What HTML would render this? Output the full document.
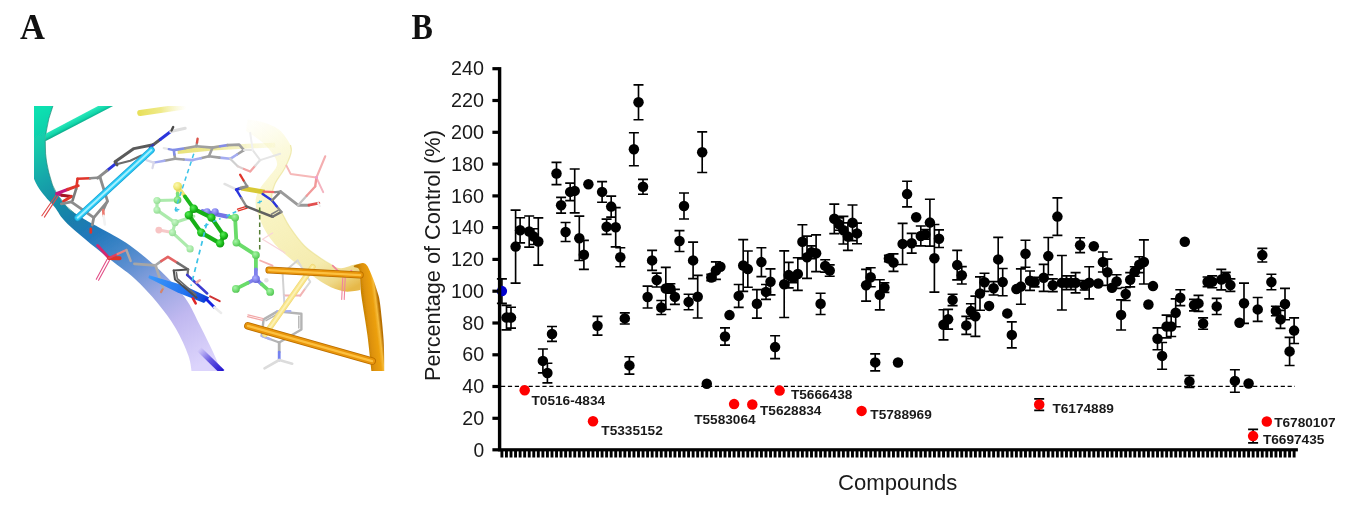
<!DOCTYPE html>
<html><head><meta charset="utf-8"><title>Figure</title>
<style>
html,body{margin:0;padding:0;background:#fff;}
svg{display:block}
</style></head><body>
<svg width="1354" height="511" viewBox="0 0 1354 511">
<rect width="1354" height="511" fill="#fff"/>
<text transform="translate(20.0,38.9) scale(0.95,1)" font-family="'Liberation Serif', 'Times New Roman', serif" font-weight="bold" font-size="36.4" fill="#111">A</text>
<text transform="translate(411.4,39.1) scale(0.875,1)" font-family="'Liberation Serif', 'Times New Roman', serif" font-weight="bold" font-size="36.6" fill="#111">B</text>
<defs>
<filter id="soft" x="-5%" y="-5%" width="110%" height="110%"><feGaussianBlur stdDeviation="0.45"/></filter>
<clipPath id="mclip"><rect x="34.3" y="106.3" width="352" height="264.2"/></clipPath>
<linearGradient id="gRib" gradientUnits="userSpaceOnUse" x1="40" y1="110" x2="200" y2="365">
<stop offset="0" stop-color="#0ce0b0"/><stop offset="0.1" stop-color="#14c8aa"/><stop offset="0.2" stop-color="#18a6aa"/><stop offset="0.3" stop-color="#168aa6"/>
<stop offset="0.38" stop-color="#1a7cae"/><stop offset="0.45" stop-color="#2478bc"/><stop offset="0.52" stop-color="#3c84c6"/><stop offset="0.6" stop-color="#6090d2"/>
<stop offset="0.72" stop-color="#9ca8e2"/><stop offset="0.83" stop-color="#c0b8f0"/><stop offset="0.95" stop-color="#d4ccf8"/><stop offset="1" stop-color="#dcd4fc"/></linearGradient>
<linearGradient id="gRibShade" gradientUnits="userSpaceOnUse" x1="34" y1="0" x2="56" y2="0">
<stop offset="0" stop-color="#066" stop-opacity="0.35"/><stop offset="1" stop-color="#066" stop-opacity="0"/></linearGradient>
<linearGradient id="gBranch" gradientUnits="userSpaceOnUse" x1="70" y1="120.3" x2="74" y2="128.2">
<stop offset="0" stop-color="#2ceabc"/><stop offset="0.55" stop-color="#10d4a8"/><stop offset="1" stop-color="#088c74"/></linearGradient>
<linearGradient id="gYcyl" gradientUnits="userSpaceOnUse" x1="140" y1="113" x2="186" y2="106">
<stop offset="0" stop-color="#e8e05c"/><stop offset="0.45" stop-color="#ece674" stop-opacity="0.85"/><stop offset="1" stop-color="#f4f0a0" stop-opacity="0"/></linearGradient>
<linearGradient id="gYrib" gradientUnits="userSpaceOnUse" x1="255" y1="120" x2="350" y2="290">
<stop offset="0" stop-color="#fbf8d0" stop-opacity="0.1"/><stop offset="0.2" stop-color="#f9f5c0" stop-opacity="0.55"/><stop offset="0.45" stop-color="#f7f1b4" stop-opacity="0.8"/>
<stop offset="0.8" stop-color="#f4eaa8" stop-opacity="0.92"/><stop offset="0.92" stop-color="#eed888"/><stop offset="1" stop-color="#e6b848"/></linearGradient>
<linearGradient id="gYrib2" gradientUnits="userSpaceOnUse" x1="270" y1="228" x2="362" y2="282">
<stop offset="0" stop-color="#f8f2b8" stop-opacity="0.8"/><stop offset="0.6" stop-color="#f5ecb0" stop-opacity="0.9"/><stop offset="0.85" stop-color="#eedc88"/><stop offset="1" stop-color="#e6b848"/></linearGradient>
<linearGradient id="gOrib" gradientUnits="userSpaceOnUse" x1="363.6" y1="321" x2="380.4" y2="319">
<stop offset="0" stop-color="#c07c04"/><stop offset="0.3" stop-color="#de9208"/><stop offset="0.7" stop-color="#eca010"/><stop offset="0.86" stop-color="#f6bc3c"/><stop offset="1" stop-color="#b87004"/></linearGradient>
<linearGradient id="gSlab" gradientUnits="userSpaceOnUse" x1="150" y1="277" x2="208" y2="300">
<stop offset="0" stop-color="#3a98fa"/><stop offset="0.6" stop-color="#2474f0"/><stop offset="1" stop-color="#0c3cd4"/></linearGradient>
<linearGradient id="gVio" gradientUnits="userSpaceOnUse" x1="199" y1="349" x2="221" y2="371">
<stop offset="0" stop-color="#5040e0" stop-opacity="0"/><stop offset="0.5" stop-color="#4030d8" stop-opacity="0.75"/><stop offset="1" stop-color="#2818d0"/></linearGradient>
<linearGradient id="gGsl" gradientUnits="userSpaceOnUse" x1="177" y1="0" x2="276" y2="0">
<stop offset="0" stop-color="#e4dc5c" stop-opacity="0.85"/><stop offset="0.38" stop-color="#e8e270" stop-opacity="0.8"/><stop offset="0.6" stop-color="#efea90" stop-opacity="0.6"/><stop offset="1" stop-color="#f4f0a8" stop-opacity="0.2"/></linearGradient>
<radialGradient id="bG" cx="0.38" cy="0.35" r="0.7"><stop offset="0" stop-color="#58ec58"/><stop offset="0.6" stop-color="#1cbc1c"/><stop offset="1" stop-color="#0c900c"/></radialGradient>
<radialGradient id="bL" cx="0.38" cy="0.35" r="0.7"><stop offset="0" stop-color="#a8f4a8"/><stop offset="0.6" stop-color="#70dc70"/><stop offset="1" stop-color="#50c050"/></radialGradient>
<radialGradient id="bN" cx="0.38" cy="0.35" r="0.7"><stop offset="0" stop-color="#b0b0ff"/><stop offset="0.6" stop-color="#8080ec"/><stop offset="1" stop-color="#6060d0"/></radialGradient>
<radialGradient id="bS" cx="0.38" cy="0.35" r="0.7"><stop offset="0" stop-color="#fcf8b0"/><stop offset="0.6" stop-color="#f0e874"/><stop offset="1" stop-color="#d8cc50"/></radialGradient>
</defs>
<g id="mol" clip-path="url(#mclip)"><g filter="url(#soft)">
<path d="M247.6 119.5 C250.0 119.9 256.8 120.3 262.0 122.0 C267.2 123.7 274.1 125.6 278.8 129.4 C283.6 133.2 288.5 141.1 290.5 145.0 C292.5 148.9 292.0 149.1 291.0 153.0 C290.0 156.9 287.3 163.3 284.6 168.5 C281.9 173.7 276.9 178.9 274.8 184.2 C272.7 189.4 271.0 195.4 272.0 200.0 C273.0 204.6 278.1 207.1 281.0 211.5 C283.9 215.9 285.6 220.8 289.5 226.6 C293.4 232.3 299.2 240.6 304.6 246.0 C310.0 251.4 317.2 255.7 321.9 258.9 C326.6 262.1 329.4 263.8 332.6 265.4 C335.8 266.9 337.8 268.3 341.3 268.2 C344.8 268.1 350.7 265.4 353.8 264.7 C356.9 264.0 359.0 263.9 360.0 263.8 L360.3 289.8 C359.6 289.9 359.1 290.4 356.3 290.7 C353.5 290.9 348.4 292.3 343.4 291.3 C338.4 290.3 332.7 288.4 326.2 284.8 C319.7 281.2 311.8 275.1 304.6 269.7 C297.4 264.3 289.2 258.2 283.1 252.5 C277.0 246.8 271.9 240.9 268.0 235.2 C264.1 229.4 261.5 223.4 259.4 218.0 C257.3 212.6 255.6 207.7 255.5 203.0 C255.4 198.3 256.9 194.2 259.0 190.0 C261.1 185.8 265.0 182.2 268.0 178.0 C271.0 173.8 276.3 169.2 277.0 165.0 C277.7 160.8 274.5 156.8 272.0 153.0 C269.5 149.2 266.3 145.7 262.0 142.0 C257.7 138.3 248.7 132.8 246.0 131.0Z" fill="url(#gYrib)"/>
<path d="M290.5 145.0 C290.6 146.3 292.0 149.1 291.0 153.0 C290.0 156.9 287.3 163.3 284.6 168.5 C281.9 173.7 276.9 178.9 274.8 184.2 C272.7 189.4 271.0 195.4 272.0 200.0 C273.0 204.6 278.1 207.1 281.0 211.5 C283.9 215.9 285.6 220.8 289.5 226.6 C293.4 232.3 299.2 240.6 304.6 246.0 C310.0 251.4 317.2 255.7 321.9 258.9 C326.6 262.1 330.8 264.3 332.6 265.4" stroke="#e6dc84" stroke-width="1.2" fill="none" opacity="0.55"/>
<g opacity="0.95">
<path d="M177.6 151.6 L212.6 148.3 L247.7 146.1 L275.2 145.1" stroke="url(#gGsl)" stroke-width="4.6" fill="none" stroke-linecap="butt" stroke-linejoin="round"/>
<path d="M163.8 148.1 L168.8 149.1" stroke="#e6e6e6" stroke-width="2.4" fill="none" stroke-linecap="round" stroke-linejoin="round"/>
<path d="M168.8 149.1 L173.8 150.1" stroke="#7c88e6" stroke-width="2.4" fill="none" stroke-linecap="round" stroke-linejoin="round"/>
<path d="M173.8 150.1 L185.1 148.2" stroke="#7c88e6" stroke-width="2.6" fill="none" stroke-linecap="round" stroke-linejoin="round"/>
<path d="M185.1 148.2 L196.3 146.3" stroke="#9a9a9a" stroke-width="2.6" fill="none" stroke-linecap="round" stroke-linejoin="round"/>
<path d="M196.3 146.3 L197.0 142.6" stroke="#9a9a9a" stroke-width="2.4" fill="none" stroke-linecap="round" stroke-linejoin="round"/>
<path d="M197.0 142.6 L197.6 138.8" stroke="#d84a40" stroke-width="2.4" fill="none" stroke-linecap="round" stroke-linejoin="round"/>
<path d="M196.3 146.3 L212.6 147.6 L208.9 156.3" stroke="#9a9a9a" stroke-width="2.6" fill="none" stroke-linecap="round" stroke-linejoin="round"/>
<path d="M208.9 156.3 L200.7 158.2" stroke="#9a9a9a" stroke-width="2.6" fill="none" stroke-linecap="round" stroke-linejoin="round"/>
<path d="M200.7 158.2 L192.6 160.1" stroke="#a0a8f0" stroke-width="2.6" fill="none" stroke-linecap="round" stroke-linejoin="round"/>
<path d="M192.6 160.1 L183.8 159.5" stroke="#a0a8f0" stroke-width="2.6" fill="none" stroke-linecap="round" stroke-linejoin="round"/>
<path d="M183.8 159.5 L175.1 158.8" stroke="#9a9a9a" stroke-width="2.6" fill="none" stroke-linecap="round" stroke-linejoin="round"/>
<path d="M175.1 158.8 L174.4 154.5" stroke="#9a9a9a" stroke-width="2.6" fill="none" stroke-linecap="round" stroke-linejoin="round"/>
<path d="M174.4 154.5 L173.8 150.1" stroke="#7c88e6" stroke-width="2.6" fill="none" stroke-linecap="round" stroke-linejoin="round"/>
<path d="M175.1 158.8 L164.4 160.7" stroke="#9a9a9a" stroke-width="2.4" fill="none" stroke-linecap="round" stroke-linejoin="round"/>
<path d="M164.4 160.7 L153.8 162.6" stroke="#a0a8f0" stroke-width="2.4" fill="none" stroke-linecap="round" stroke-linejoin="round"/>
<path d="M146.3 160.1 L153.8 162.6 L152.5 168.1" stroke="#d6d6e8" stroke-width="2.2" fill="none" stroke-linecap="round" stroke-linejoin="round"/>
<path d="M212.6 147.6 L220.1 146.3" stroke="#9a9a9a" stroke-width="2.6" fill="none" stroke-linecap="round" stroke-linejoin="round"/>
<path d="M220.1 146.3 L227.6 145.1" stroke="#8088e6" stroke-width="2.6" fill="none" stroke-linecap="round" stroke-linejoin="round"/>
<path d="M227.6 145.1 L239.2 144.6 L243.9 150.1" stroke="#9a9a9a" stroke-width="2.6" fill="none" stroke-linecap="round" stroke-linejoin="round"/>
<path d="M243.9 150.1 L237.0 154.5" stroke="#9a9a9a" stroke-width="2.6" fill="none" stroke-linecap="round" stroke-linejoin="round"/>
<path d="M237.0 154.5 L230.2 158.8" stroke="#a0a8f0" stroke-width="2.6" fill="none" stroke-linecap="round" stroke-linejoin="round"/>
<path d="M230.2 158.8 L219.5 157.6" stroke="#a0a8f0" stroke-width="2.6" fill="none" stroke-linecap="round" stroke-linejoin="round"/>
<path d="M219.5 157.6 L208.9 156.3" stroke="#9a9a9a" stroke-width="2.6" fill="none" stroke-linecap="round" stroke-linejoin="round"/>
</g>
<path d="M230.2 158.8 L237.7 166.3" stroke="#cfcfcf" stroke-width="2.2" fill="none" stroke-linecap="round" stroke-linejoin="round"/>
<path d="M237.7 166.3 L243.9 168.9" stroke="#dcd0d0" stroke-width="2.2" fill="none" stroke-linecap="round" stroke-linejoin="round"/>
<path d="M243.9 168.9 L250.2 171.4" stroke="#f2a4a4" stroke-width="2.2" fill="none" stroke-linecap="round" stroke-linejoin="round"/>
<path d="M250.2 171.4 L255.2 165.7" stroke="#f2a4a4" stroke-width="2.2" fill="none" stroke-linecap="round" stroke-linejoin="round"/>
<path d="M255.2 165.7 L260.2 160.1" stroke="#dedede" stroke-width="2.2" fill="none" stroke-linecap="round" stroke-linejoin="round"/>
<path d="M260.2 160.1 L280.2 153.8" stroke="#e6e6e6" stroke-width="2.0" fill="none" stroke-linecap="round" stroke-linejoin="round"/>
<path d="M260.2 160.1 L252.7 150.1 L243.9 150.1" stroke="#e4e4e4" stroke-width="2.0" fill="none" stroke-linecap="round" stroke-linejoin="round"/>
<path d="M252.7 150.1 L250.2 133.0" stroke="#f0f0f0" stroke-width="2.0" fill="none" stroke-linecap="round" stroke-linejoin="round"/>
<path d="M316.4 177.6 L325.2 156.3" stroke="#f4aeb0" stroke-width="2.2" fill="none" stroke-linecap="round" stroke-linejoin="round"/>
<path d="M316.4 177.6 L290.6 173.9 L286.4 165.6" stroke="#f6b8b8" stroke-width="2.0" fill="none" stroke-linecap="round" stroke-linejoin="round"/>
<path d="M316.4 177.6 L323.2 192.1" stroke="#f4b4c0" stroke-width="2.0" fill="none" stroke-linecap="round" stroke-linejoin="round"/>
<path d="M316.4 177.6 L315.2 186.4" stroke="#f29898" stroke-width="2.4" fill="none" stroke-linecap="round" stroke-linejoin="round"/>
<circle cx="316.4" cy="177.6" r="1.6" fill="#eea0cc"/>
<path d="M272.6 233.0 L262.6 239.3 L285.1 253.0" stroke="#f8d4da" stroke-width="1.3" fill="none" stroke-linecap="round" stroke-linejoin="round"/>
<path d="M260.1 260.5 L272.6 265.6" stroke="#f4b0b0" stroke-width="1.8" fill="none" stroke-linecap="round" stroke-linejoin="round"/>
<path d="M297.6 260.5 L282.6 273.1 L283.9 295.6" stroke="#d2d2d2" stroke-width="2.0" fill="none" stroke-linecap="round" stroke-linejoin="round"/>
<path d="M283.9 295.6 L300.2 295.6" stroke="#f2b4b4" stroke-width="2.0" fill="none" stroke-linecap="round" stroke-linejoin="round"/>
<path d="M300.2 295.6 L305.2 288.7" stroke="#f2b4b4" stroke-width="2.0" fill="none" stroke-linecap="round" stroke-linejoin="round"/>
<path d="M305.2 288.7 L310.2 281.8" stroke="#d8d8d8" stroke-width="2.0" fill="none" stroke-linecap="round" stroke-linejoin="round"/>
<path d="M310.2 281.8 L297.6 260.5" stroke="#dadada" stroke-width="2.0" fill="none" stroke-linecap="round" stroke-linejoin="round"/>
<path d="M283.9 295.6 L284.6 307.6" stroke="#d0d0dc" stroke-width="2.0" fill="none" stroke-linecap="round" stroke-linejoin="round"/>
<path d="M263.6 319.4 L277.4 311.4 L301.4 313.8 L301.4 329.5 L279.2 342.5 L261.7 336.0 L263.6 319.4" stroke="#b4b4b4" stroke-width="2.4" fill="none" stroke-linecap="round" stroke-linejoin="round"/>
<path d="M298.8 316.2 L298.8 328.1" stroke="#b4b4b4" stroke-width="1.4" fill="none" stroke-linecap="round" stroke-linejoin="round"/>
<path d="M266.0 320.7 L277.4 314.2" stroke="#b4b4b4" stroke-width="1.4" fill="none" stroke-linecap="round" stroke-linejoin="round"/>
<path d="M277.4 311.4 L290.3 311.1" stroke="#a8b0f0" stroke-width="2.4" fill="none" stroke-linecap="round" stroke-linejoin="round"/>
<path d="M261.7 336.0 L270.0 339.1" stroke="#a8b0f0" stroke-width="2.4" fill="none" stroke-linecap="round" stroke-linejoin="round"/>
<path d="M247.9 314.8 L263.0 318.5" stroke="#f2a6a6" stroke-width="1.2" fill="none" stroke-linecap="round" stroke-linejoin="round"/>
<path d="M247.5 316.6 L262.6 320.3" stroke="#f2a6a6" stroke-width="1.2" fill="none" stroke-linecap="round" stroke-linejoin="round"/>
<path d="M279.2 342.5 L279.2 352.1" stroke="#b2b2b2" stroke-width="2.8" fill="none" stroke-linecap="round" stroke-linejoin="round"/>
<path d="M279.2 352.1 L279.2 360.0" stroke="#7482f0" stroke-width="2.8" fill="none" stroke-linecap="round" stroke-linejoin="round"/>
<path d="M279.2 360.0 L264.5 368.3" stroke="#dcdcdc" stroke-width="2.6" fill="none" stroke-linecap="round" stroke-linejoin="round"/>
<path d="M279.2 360.0 L292.2 363.7" stroke="#dcdcdc" stroke-width="2.6" fill="none" stroke-linecap="round" stroke-linejoin="round"/>
<path d="M341.7 299.4 L342.7 278.1" stroke="#f0849c" stroke-width="1.1" fill="none" stroke-linecap="round" stroke-linejoin="round"/>
<path d="M344.2 299.4 L345.2 278.1" stroke="#f0849c" stroke-width="1.1" fill="none" stroke-linecap="round" stroke-linejoin="round"/>
<path d="M332.7 265.6 L344.0 276.8 L351.5 270.6" stroke="#f0849c" stroke-width="1.6" fill="none" stroke-linecap="round" stroke-linejoin="round"/>
<path d="M30.0 100.0 C30.0 108.3 29.7 138.0 30.0 150.0 C30.3 162.0 30.8 166.0 32.0 172.0 C33.2 178.0 35.3 181.9 37.5 186.0 C39.7 190.1 42.1 192.7 45.0 196.3 C47.9 199.9 51.2 203.0 55.0 207.6 C58.8 212.2 59.2 216.0 67.6 224.0 C75.9 232.0 93.9 246.4 105.1 255.5 C116.2 264.6 125.8 270.6 134.5 278.5 C143.2 286.4 150.7 294.8 157.5 303.0 C164.3 311.2 170.3 319.2 175.5 328.0 C180.7 336.8 185.8 348.2 188.5 356.0 C191.2 363.8 191.4 371.8 192.0 375.0 L222.5 375.0 C221.2 371.7 218.3 363.6 214.6 355.4 C210.8 347.2 204.9 335.2 200.0 325.6 C195.1 316.0 191.8 307.2 185.2 298.0 C178.6 288.8 169.4 279.4 160.2 270.6 C151.0 261.9 140.0 252.6 130.0 245.5 C120.0 238.4 106.7 231.8 100.0 228.0 C93.3 224.2 94.4 225.2 90.0 222.6 C85.6 220.0 77.8 215.3 73.8 212.6 C69.8 209.9 69.1 209.4 66.3 206.3 C63.5 203.2 59.2 197.4 56.9 193.8 C54.6 190.2 53.9 188.6 52.5 185.0 C51.1 181.4 49.8 176.3 48.8 172.5 C47.8 168.7 47.1 165.1 46.6 162.0 C46.1 158.9 45.8 157.2 45.6 153.8 C45.4 150.4 45.2 145.1 45.3 141.3 C45.4 137.6 45.7 135.1 46.3 131.3 C46.9 127.6 47.7 123.0 48.8 118.8 C49.9 114.6 51.9 109.1 52.9 106.0 C53.9 102.9 54.6 101.0 55.0 100.0Z" fill="url(#gRib)"/>
<path d="M55.0 100.0 L52.9 106.0 L48.8 118.8 L46.3 131.3 L45.3 141.3 L45.6 153.8 L46.6 162.0 L48.8 172.5 L52.5 185.0 L56.9 193.8 L66.3 206.3 L73.8 212.6" stroke="#0a7868" stroke-width="1.0" fill="none" stroke-linecap="round" stroke-linejoin="round" opacity="0.6"/>
<path d="M46.0 133.6 L99.5 105.3 L114.5 105.3 L45.3 141.2Z" fill="url(#gBranch)"/>
<path d="M198.9 348.9 L222.4 372.0" stroke="url(#gVio)" stroke-width="5.6" fill="none" stroke-linecap="butt" stroke-linejoin="round"/>
<path d="M353.8 265.7 C354.8 265.4 357.8 264.2 359.4 263.8 C361.1 263.4 362.5 262.7 363.8 263.2 C365.2 263.6 366.1 263.9 367.6 266.3 C369.0 268.7 370.9 273.2 372.6 277.6 C374.3 281.9 376.3 288.2 377.6 292.6 C378.9 297.0 379.1 296.1 380.1 304.0 C381.1 311.9 382.9 328.7 383.6 340.0 C384.3 351.3 384.2 366.7 384.3 372.0 L371.5 372.0 C370.8 365.8 368.9 346.3 367.4 335.0 C365.9 323.7 363.7 311.5 362.6 304.0 C361.5 296.5 361.1 294.5 360.7 290.1 C360.3 285.7 360.2 280.6 360.1 277.6 C359.9 274.5 360.1 273.5 359.8 271.9 C359.5 270.4 359.2 269.0 358.2 268.2 C357.2 267.3 354.5 267.1 353.8 266.9Z" fill="url(#gOrib)"/>
<path d="M312.7 266.8 L265.1 334.4" stroke="#f0d878" stroke-width="5.8" fill="none" stroke-linecap="round" stroke-linejoin="round"/>
<path d="M312.7 266.8 L265.1 334.4" stroke="#f9e68c" stroke-width="4.524" fill="none" stroke-linecap="round" stroke-linejoin="round"/>
<path d="M312.7 266.8 L265.1 334.4" stroke="#fdf2b4" stroke-width="1.74" fill="none" stroke-linecap="round" stroke-linejoin="round"/>
<path d="M268.9 270.1 L360.2 275.1" stroke="#b86c00" stroke-width="7.0" fill="none" stroke-linecap="round" stroke-linejoin="round"/>
<path d="M268.9 270.1 L360.2 275.1" stroke="#e89408" stroke-width="5.46" fill="none" stroke-linecap="round" stroke-linejoin="round"/>
<path d="M268.9 270.1 L360.2 275.1" stroke="#fcc040" stroke-width="2.1" fill="none" stroke-linecap="round" stroke-linejoin="round"/>
<path d="M247.9 325.8 L372.1 361.2" stroke="#b86c00" stroke-width="7.6" fill="none" stroke-linecap="round" stroke-linejoin="round"/>
<path d="M247.9 325.8 L372.1 361.2" stroke="#e89408" stroke-width="5.928" fill="none" stroke-linecap="round" stroke-linejoin="round"/>
<path d="M247.9 325.8 L372.1 361.2" stroke="#fcc040" stroke-width="2.28" fill="none" stroke-linecap="round" stroke-linejoin="round"/>
<path d="M55.7 195.7 L41.9 215.7" stroke="#e04848" stroke-width="1.1" fill="none" stroke-linecap="round" stroke-linejoin="round"/>
<path d="M57.8 196.4 L44.4 217.1" stroke="#e04848" stroke-width="1.1" fill="none" stroke-linecap="round" stroke-linejoin="round"/>
<path d="M56.9 193.6 L67.6 189.5" stroke="#c4187e" stroke-width="3.2" fill="none" stroke-linecap="round" stroke-linejoin="round"/>
<path d="M67.6 189.5 L78.2 185.7" stroke="#e0342a" stroke-width="3.0" fill="none" stroke-linecap="round" stroke-linejoin="round"/>
<path d="M56.9 193.6 L61.9 195.2" stroke="#c4187e" stroke-width="3.0" fill="none" stroke-linecap="round" stroke-linejoin="round"/>
<path d="M61.9 195.2 L71.3 196.4" stroke="#a41424" stroke-width="3.0" fill="none" stroke-linecap="round" stroke-linejoin="round"/>
<path d="M71.3 196.4 L63.6 201.3" stroke="#e0342a" stroke-width="3.0" fill="none" stroke-linecap="round" stroke-linejoin="round"/>
<path d="M77.6 178.8 L90.1 178.3" stroke="#e0342a" stroke-width="2.6" fill="none" stroke-linecap="round" stroke-linejoin="round"/>
<path d="M90.1 178.3 L100.1 177.5" stroke="#8c8c8c" stroke-width="2.6" fill="none" stroke-linecap="round" stroke-linejoin="round"/>
<path d="M77.6 178.8 L76.1 189.0" stroke="#e0342a" stroke-width="2.6" fill="none" stroke-linecap="round" stroke-linejoin="round"/>
<path d="M76.1 189.0 L72.6 200.3" stroke="#7c7c7c" stroke-width="2.6" fill="none" stroke-linecap="round" stroke-linejoin="round"/>
<path d="M61.3 203.8 L71.3 201.9" stroke="#8a8a8a" stroke-width="2.8" fill="none" stroke-linecap="round" stroke-linejoin="round"/>
<path d="M100.1 177.5 L107.6 201.3 L93.8 217.6 L71.3 201.9" stroke="#8c8c8c" stroke-width="2.8" fill="none" stroke-linecap="round" stroke-linejoin="round"/>
<path d="M93.8 217.6 L92.3 225.1" stroke="#8c8c8c" stroke-width="2.8" fill="none" stroke-linecap="round" stroke-linejoin="round"/>
<path d="M106.6 202.6 L103.2 210.1" stroke="#8c8c8c" stroke-width="2.6" fill="none" stroke-linecap="round" stroke-linejoin="round"/>
<path d="M103.2 210.1 L103.6 215.7" stroke="#ec7a70" stroke-width="2.6" fill="none" stroke-linecap="round" stroke-linejoin="round"/>
<path d="M103.6 215.7 L104.9 224.5" stroke="#f2f2f2" stroke-width="2.6" fill="none" stroke-linecap="round" stroke-linejoin="round"/>
<path d="M116.4 163.1 L107.0 170.6" stroke="#2a34dc" stroke-width="3.0" fill="none" stroke-linecap="round" stroke-linejoin="round"/>
<path d="M107.0 170.6 L97.6 178.1" stroke="#8c8c8c" stroke-width="3.0" fill="none" stroke-linecap="round" stroke-linejoin="round"/>
<path d="M116.6 164.3 L130.2 160.8 L141.4 155.6" stroke="#6c6c6c" stroke-width="2.2" fill="none" stroke-linecap="round" stroke-linejoin="round"/>
<path d="M115.1 161.8 L133.9 148.6 L153.2 144.8" stroke="#5a5a5a" stroke-width="3.0" fill="none" stroke-linecap="round" stroke-linejoin="round"/>
<path d="M115.1 161.8 L117.1 165.1" stroke="#5a5a5a" stroke-width="2.6" fill="none" stroke-linecap="round" stroke-linejoin="round"/>
<path d="M153.2 144.8 L160.2 139.5" stroke="#5a5a5a" stroke-width="3.0" fill="none" stroke-linecap="round" stroke-linejoin="round"/>
<path d="M160.2 139.5 L170.7 131.5" stroke="#2a34dc" stroke-width="3.0" fill="none" stroke-linecap="round" stroke-linejoin="round"/>
<path d="M170.7 131.5 L185.2 128.3" stroke="#dedede" stroke-width="3.0" fill="none" stroke-linecap="round" stroke-linejoin="round"/>
<path d="M171.5 130.5 L173.2 127.0" stroke="#4a4a4a" stroke-width="2.4" fill="none" stroke-linecap="round" stroke-linejoin="round"/>
<path d="M149.7 148.1 L153.2 144.8" stroke="#3838b0" stroke-width="2.2" fill="none" stroke-linecap="round" stroke-linejoin="round"/>
<path d="M77.6 217.7 L151.4 150.1" stroke="#18a0d4" stroke-width="6.6" fill="none" stroke-linecap="round" stroke-linejoin="round"/>
<path d="M77.6 217.7 L151.4 150.1" stroke="#2cccf6" stroke-width="5.148" fill="none" stroke-linecap="round" stroke-linejoin="round"/>
<path d="M77.6 217.7 L151.4 150.1" stroke="#a4f0ff" stroke-width="1.9799999999999998" fill="none" stroke-linecap="round" stroke-linejoin="round"/>
<path d="M140.2 113 L186 106.4" stroke="url(#gYcyl)" stroke-width="6" stroke-linecap="round" fill="none"/>
<path d="M97.6 245.5 L108.9 258.0" stroke="#d42870" stroke-width="2.89" fill="none" stroke-linecap="round" stroke-linejoin="round"/>
<path d="M108.9 258.0 L119.6 258.3" stroke="#e0342a" stroke-width="4.0" fill="none" stroke-linecap="round" stroke-linejoin="round"/>
<path d="M108.9 258.0 L117.6 254.0" stroke="#e04060" stroke-width="2.21" fill="none" stroke-linecap="round" stroke-linejoin="round"/>
<path d="M117.6 254.0 L126.4 250.0" stroke="#e88080" stroke-width="2.21" fill="none" stroke-linecap="round" stroke-linejoin="round"/>
<path d="M126.4 250.0 L130.7 261.0" stroke="#b0a8a8" stroke-width="2.38" fill="none" stroke-linecap="round" stroke-linejoin="round"/>
<path d="M107.1 259.3 L96.3 279.3" stroke="#e25088" stroke-width="1.1" fill="none" stroke-linecap="round" stroke-linejoin="round"/>
<path d="M109.4 260.5 L98.6 280.3" stroke="#e25088" stroke-width="1.1" fill="none" stroke-linecap="round" stroke-linejoin="round"/>
<path d="M90.8 228.8 L90.8 232.5" stroke="#e0342a" stroke-width="2.72" fill="none" stroke-linecap="round" stroke-linejoin="round"/>
<path d="M134.4 263.8 L155.5 265.3" stroke="#a6a6a6" stroke-width="2.72" fill="none" stroke-linecap="round" stroke-linejoin="round"/>
<path d="M155.5 265.3 L161.2 261.1" stroke="#a6a6a6" stroke-width="2.55" fill="none" stroke-linecap="round" stroke-linejoin="round"/>
<path d="M161.2 261.1 L167.9 256.9 L177.5 262.8" stroke="#e46464" stroke-width="2.55" fill="none" stroke-linecap="round" stroke-linejoin="round"/>
<path d="M177.5 262.8 L188.1 269.5" stroke="#707070" stroke-width="2.55" fill="none" stroke-linecap="round" stroke-linejoin="round"/>
<path d="M155.5 265.3 L163.1 288.1" stroke="#acacac" stroke-width="2.72" fill="none" stroke-linecap="round" stroke-linejoin="round"/>
<path d="M162.6 289.3 L161.0 292.1" stroke="#d4846c" stroke-width="2.21" fill="none" stroke-linecap="round" stroke-linejoin="round"/>
<path d="M149.1 275.3 L148.4 278.0 L177.5 292.5 L204.0 302.9 L209.4 297.5 L183.3 285.2Z" fill="url(#gSlab)"/>
<path d="M173.7 270.5 L188.1 269.5" stroke="#505050" stroke-width="2.0" fill="none" stroke-linecap="round" stroke-linejoin="round"/>
<path d="M173.7 270.5 L175.0 279.5 L196.7 297.7" stroke="#505050" stroke-width="2.0" fill="none" stroke-linecap="round" stroke-linejoin="round"/>
<path d="M176.4 272.6 L177.3 278.7 L195.9 294.8" stroke="#6a6a6a" stroke-width="1.6" fill="none" stroke-linecap="round" stroke-linejoin="round"/>
<path d="M188.1 269.5 L187.5 275.3" stroke="#707070" stroke-width="2.21" fill="none" stroke-linecap="round" stroke-linejoin="round"/>
<path d="M187.1 274.9 L207.2 293.5" stroke="#3c3cd0" stroke-width="2.55" fill="none" stroke-linecap="round" stroke-linejoin="round"/>
<path d="M206.3 299.2 L214.3 307.3" stroke="#1424e0" stroke-width="2.89" fill="none" stroke-linecap="round" stroke-linejoin="round"/>
<path d="M214.3 307.3 L221.1 313.0" stroke="#ececec" stroke-width="2.55" fill="none" stroke-linecap="round" stroke-linejoin="round"/>
<path d="M210.1 296.4 L219.7 301.2" stroke="#d03434" stroke-width="2.0" fill="none" stroke-linecap="round" stroke-linejoin="round"/>
<path d="M192.9 298.3 L195.7 303.3" stroke="#e02828" stroke-width="2.55" fill="none" stroke-linecap="round" stroke-linejoin="round"/>
<path d="M196.7 282.4 L199.8 280.3" stroke="#f2a6a6" stroke-width="2.55" fill="none" stroke-linecap="round" stroke-linejoin="round"/>
<path d="M224.5 183.9 L235.1 188.9" stroke="#e2e2e2" stroke-width="2.4" fill="none" stroke-linecap="round" stroke-linejoin="round"/>
<path d="M241.3 188.1 L264.6 192.1" stroke="#d6c62a" stroke-width="5.0" fill="none" stroke-linecap="butt" stroke-linejoin="round" opacity="0.95"/>
<path d="M236.3 189.6 L240.6 188.3" stroke="#2a34dc" stroke-width="3.0" fill="none" stroke-linecap="round" stroke-linejoin="round"/>
<path d="M240.6 188.3 L247.1 186.4" stroke="#8c8c8c" stroke-width="3.0" fill="none" stroke-linecap="round" stroke-linejoin="round"/>
<path d="M247.1 186.4 L243.6 180.5" stroke="#8c8c8c" stroke-width="2.24" fill="none" stroke-linecap="round" stroke-linejoin="round"/>
<path d="M243.6 180.5 L240.1 174.6" stroke="#e0342a" stroke-width="2.24" fill="none" stroke-linecap="round" stroke-linejoin="round"/>
<path d="M236.3 189.6 L241.3 198.0" stroke="#2a34dc" stroke-width="2.4" fill="none" stroke-linecap="round" stroke-linejoin="round"/>
<path d="M241.3 198.0 L246.3 206.4" stroke="#8c8c8c" stroke-width="2.4" fill="none" stroke-linecap="round" stroke-linejoin="round"/>
<path d="M246.3 206.4 L237.6 209.2" stroke="#e0342a" stroke-width="1.4" fill="none" stroke-linecap="round" stroke-linejoin="round"/>
<path d="M247.1 208.2 L238.3 210.9" stroke="#e0342a" stroke-width="1.4" fill="none" stroke-linecap="round" stroke-linejoin="round"/>
<path d="M246.3 206.4 L272.6 216.7" stroke="#606060" stroke-width="2.56" fill="none" stroke-linecap="round" stroke-linejoin="round"/>
<path d="M272.6 216.7 L281.4 211.9" stroke="#707070" stroke-width="2.4" fill="none" stroke-linecap="round" stroke-linejoin="round"/>
<path d="M271.4 214.2 L278.1 210.4" stroke="#808080" stroke-width="1.6" fill="none" stroke-linecap="round" stroke-linejoin="round"/>
<path d="M281.4 211.9 L276.7 206.2" stroke="#8c8c8c" stroke-width="2.4" fill="none" stroke-linecap="round" stroke-linejoin="round"/>
<path d="M276.7 206.2 L272.1 200.4" stroke="#2a34dc" stroke-width="2.4" fill="none" stroke-linecap="round" stroke-linejoin="round"/>
<path d="M262.6 194.1 L272.6 200.7" stroke="#2a34dc" stroke-width="2.4" fill="none" stroke-linecap="round" stroke-linejoin="round"/>
<path d="M263.8 191.6 L275.1 192.1" stroke="#f06868" stroke-width="2.4" fill="none" stroke-linecap="round" stroke-linejoin="round"/>
<path d="M275.1 192.1 L280.6 191.6" stroke="#8c8c8c" stroke-width="2.4" fill="none" stroke-linecap="round" stroke-linejoin="round"/>
<path d="M272.1 200.4 L280.6 191.6" stroke="#808080" stroke-width="2.4" fill="none" stroke-linecap="round" stroke-linejoin="round"/>
<path d="M280.6 191.6 L298.1 205.2 L308.9 205.2" stroke="#9a9a9a" stroke-width="2.88" fill="none" stroke-linecap="round" stroke-linejoin="round"/>
<path d="M308.9 205.2 L318.9 203.2" stroke="#e25050" stroke-width="2.72" fill="none" stroke-linecap="round" stroke-linejoin="round"/>
<path d="M318.2 203.2 L319.9 206.2" stroke="#f2f2f2" stroke-width="2.08" fill="none" stroke-linecap="round" stroke-linejoin="round"/>
<path d="M298.1 205.2 L306.7 195.8" stroke="#c4c4c4" stroke-width="2.24" fill="none" stroke-linecap="round" stroke-linejoin="round"/>
<path d="M306.7 195.8 L315.2 186.4" stroke="#f29a9a" stroke-width="2.24" fill="none" stroke-linecap="round" stroke-linejoin="round"/>
<g opacity="0.62">
<path d="M157.0 200.5 L177.6 200.0" stroke="#7ade7a" stroke-width="3.2" fill="none" stroke-linecap="round" stroke-linejoin="round"/>
<path d="M157.0 200.5 L157.0 210.1" stroke="#7ade7a" stroke-width="3.2" fill="none" stroke-linecap="round" stroke-linejoin="round"/>
<path d="M157.0 210.1 L175.1 222.6" stroke="#7ade7a" stroke-width="3.2" fill="none" stroke-linecap="round" stroke-linejoin="round"/>
<path d="M175.1 222.6 L193.8 216.3" stroke="#7ade7a" stroke-width="3.2" fill="none" stroke-linecap="round" stroke-linejoin="round"/>
<path d="M175.1 222.6 L172.5 232.6" stroke="#7ade7a" stroke-width="3.2" fill="none" stroke-linecap="round" stroke-linejoin="round"/>
<path d="M172.5 232.6 L190.1 248.9" stroke="#7ade7a" stroke-width="3.2" fill="none" stroke-linecap="round" stroke-linejoin="round"/>
<path d="M172.5 232.6 L158.8 230.1" stroke="#f0a8a8" stroke-width="3.0" fill="none" stroke-linecap="round" stroke-linejoin="round"/>
<circle cx="157.0" cy="200.5" r="3.6" fill="url(#bL)"/>
<circle cx="157.0" cy="210.1" r="3.6" fill="url(#bL)"/>
<circle cx="175.1" cy="222.6" r="3.6" fill="url(#bL)"/>
<circle cx="172.5" cy="232.6" r="3.6" fill="url(#bL)"/>
<circle cx="190.1" cy="248.9" r="3.6" fill="url(#bL)"/>
<circle cx="158.8" cy="230.1" r="3.4" fill="#f4a0a0"/>
</g>
<path d="M177.6 186.3 L177.6 193.2" stroke="#efe674" stroke-width="3.4" fill="none" stroke-linecap="round" stroke-linejoin="round"/>
<path d="M177.6 193.2 L177.6 200.0" stroke="#7ce07c" stroke-width="3.4" fill="none" stroke-linecap="round" stroke-linejoin="round"/>
<circle cx="177.6" cy="200.0" r="3.8" fill="url(#bL)"/>
<path d="M177.6 186.3 L184.9 196.4" stroke="#efe674" stroke-width="3.8" fill="none" stroke-linecap="round" stroke-linejoin="round"/>
<path d="M184.9 196.4 L193.8 208.8" stroke="#1cb81c" stroke-width="3.8" fill="none" stroke-linecap="round" stroke-linejoin="round"/>
<path d="M226.4 216.3 L235.1 217.6 L236.4 242.6 L255.9 255.1" stroke="#6adc6a" stroke-width="3.8" fill="none" stroke-linecap="round" stroke-linejoin="round"/>
<path d="M255.9 255.1 L255.9 269.4" stroke="#6adc6a" stroke-width="3.8" fill="none" stroke-linecap="round" stroke-linejoin="round"/>
<path d="M255.9 269.4 L255.9 278.9" stroke="#8080ec" stroke-width="3.8" fill="none" stroke-linecap="round" stroke-linejoin="round"/>
<path d="M255.9 278.9 L247.9 282.9" stroke="#8080ec" stroke-width="3.6" fill="none" stroke-linecap="round" stroke-linejoin="round"/>
<path d="M247.9 282.9 L235.9 288.9" stroke="#6adc6a" stroke-width="3.6" fill="none" stroke-linecap="round" stroke-linejoin="round"/>
<path d="M255.9 278.9 L261.6 284.1" stroke="#8080ec" stroke-width="3.6" fill="none" stroke-linecap="round" stroke-linejoin="round"/>
<path d="M261.6 284.1 L270.2 291.9" stroke="#6adc6a" stroke-width="3.6" fill="none" stroke-linecap="round" stroke-linejoin="round"/>
<circle cx="235.1" cy="217.6" r="3.9" fill="url(#bL)"/>
<circle cx="236.4" cy="242.6" r="3.9" fill="url(#bL)"/>
<circle cx="255.9" cy="255.1" r="3.9" fill="url(#bL)"/>
<circle cx="235.9" cy="288.9" r="3.9" fill="url(#bL)"/>
<circle cx="270.2" cy="291.9" r="3.9" fill="url(#bL)"/>
<circle cx="255.9" cy="278.9" r="4.0" fill="url(#bN)"/>
<circle cx="266.4" cy="280.2" r="2.2" fill="#d8d8d8" opacity="0.7"/>
<path d="M202.6 211.3 L226.4 216.3" stroke="#7474e6" stroke-width="4.4" fill="none" stroke-linecap="round" stroke-linejoin="round"/>
<circle cx="207.1" cy="211.6" r="3.4" fill="url(#bN)"/>
<circle cx="215.1" cy="211.8" r="3.6" fill="url(#bN)"/>
<path d="M193.8 208.8 L211.4 217.6" stroke="#18b018" stroke-width="4.2" fill="none" stroke-linecap="round" stroke-linejoin="round"/>
<path d="M211.4 217.6 L223.9 235.6" stroke="#18b018" stroke-width="4.2" fill="none" stroke-linecap="round" stroke-linejoin="round"/>
<path d="M223.9 235.6 L220.1 243.4" stroke="#18b018" stroke-width="4.2" fill="none" stroke-linecap="round" stroke-linejoin="round"/>
<path d="M220.1 243.4 L201.3 232.6" stroke="#18b018" stroke-width="4.2" fill="none" stroke-linecap="round" stroke-linejoin="round"/>
<path d="M201.3 232.6 L188.8 215.1" stroke="#18b018" stroke-width="4.2" fill="none" stroke-linecap="round" stroke-linejoin="round"/>
<path d="M188.8 215.1 L193.8 208.8" stroke="#18b018" stroke-width="4.2" fill="none" stroke-linecap="round" stroke-linejoin="round"/>
<circle cx="193.8" cy="208.8" r="4.2" fill="url(#bG)"/>
<circle cx="211.4" cy="217.6" r="4.2" fill="url(#bG)"/>
<circle cx="223.9" cy="235.6" r="4.2" fill="url(#bG)"/>
<circle cx="220.1" cy="243.4" r="4.2" fill="url(#bG)"/>
<circle cx="201.3" cy="232.6" r="4.2" fill="url(#bG)"/>
<circle cx="188.8" cy="215.1" r="4.2" fill="url(#bG)"/>
<circle cx="177.6" cy="186.3" r="4.4" fill="url(#bS)"/>
<line x1="193.8" y1="153.8" x2="175.1" y2="210.2" stroke="#3cc4e8" stroke-width="1.5" stroke-dasharray="4.5 3.5"/>
<line x1="206.8" y1="223.5" x2="191.0" y2="285.8" stroke="#3cc4e8" stroke-width="1.7" stroke-dasharray="5 4"/>
<line x1="213.1" y1="221.8" x2="220.6" y2="218.6" stroke="#3cc4e8" stroke-width="1.5" stroke-dasharray="3.5 3"/>
<line x1="226.4" y1="216.3" x2="238.9" y2="210.1" stroke="#3cc4e8" stroke-width="1.6" stroke-dasharray="4 3"/>
<line x1="259.7" y1="207.6" x2="259.7" y2="252.6" stroke="#547e34" stroke-width="1.5" stroke-dasharray="4.5 3"/>
<path d="M174.9 210.9L179.3 209.3M177.1 208.5v3.2" stroke="#3cc4e8" stroke-width="1.3" fill="none"/>
<path d="M204.1 225.9L208.5 224.3M206.3 223.5v3.2" stroke="#3cc4e8" stroke-width="1.3" fill="none"/>
<path d="M257.5 202.8L261.9 201.2M259.7 200.4v3.2" stroke="#3cc4e8" stroke-width="1.3" fill="none"/>
</g></g>
<g id="chart" font-family="'Liberation Sans', Arial, sans-serif">
<line x1="501" y1="386.4" x2="1295" y2="386.4" stroke="#000" stroke-width="1.4" stroke-dasharray="4.2 2.7"/>
<path d="M501.9 278.9V303.4M496.9 278.9h10M496.9 303.4h10M506.5 305.4V329.8M501.5 305.4h10M501.5 329.8h10M511.0 307.2V328.1M506.0 307.2h10M506.0 328.1h10M515.6 210.1V283.1M510.6 210.1h10M510.6 283.1h10M520.1 217.7V242.8M515.1 217.7h10M515.1 242.8h10M529.2 216.0V247.1M524.2 216.0h10M524.2 247.1h10M533.8 228.7V244.5M528.8 228.7h10M528.8 244.5h10M538.3 217.9V265.1M533.3 217.9h10M533.3 265.1h10M542.9 349.0V372.8M537.9 349.0h10M537.9 372.8h10M547.4 363.2V382.8M542.4 363.2h10M542.4 382.8h10M552.0 326.5V341.4M547.0 326.5h10M547.0 341.4h10M556.5 162.4V184.6M551.5 162.4h10M551.5 184.6h10M561.1 197.3V213.1M556.1 197.3h10M556.1 213.1h10M565.6 222.5V241.5M560.6 222.5h10M560.6 241.5h10M570.2 183.1V200.6M565.2 183.1h10M565.2 200.6h10M574.7 169.0V212.8M569.7 169.0h10M569.7 212.8h10M579.3 216.1V260.5M574.3 216.1h10M574.3 260.5h10M583.9 240.4V269.3M578.9 240.4h10M578.9 269.3h10M597.5 316.4V335.1M592.5 316.4h10M592.5 335.1h10M602.1 181.6V202.2M597.1 181.6h10M597.1 202.2h10M606.6 219.1V234.4M601.6 219.1h10M601.6 234.4h10M611.2 196.1V217.1M606.2 196.1h10M606.2 217.1h10M615.7 207.6V246.9M610.7 207.6h10M610.7 246.9h10M620.3 247.7V266.7M615.3 247.7h10M615.3 266.7h10M624.8 312.9V324.0M619.8 312.9h10M619.8 324.0h10M629.4 356.7V374.1M624.4 356.7h10M624.4 374.1h10M633.9 132.7V165.7M628.9 132.7h10M628.9 165.7h10M638.5 84.8V119.7M633.5 84.8h10M633.5 119.7h10M643.0 179.3V194.2M638.0 179.3h10M638.0 194.2h10M647.6 286.1V308.0M642.6 286.1h10M642.6 308.0h10M652.1 250.4V270.4M647.1 250.4h10M647.1 270.4h10M656.7 273.1V287.0M651.7 273.1h10M651.7 287.0h10M661.3 300.5V314.5M656.3 300.5h10M656.3 314.5h10M665.8 267.4V309.5M660.8 267.4h10M660.8 309.5h10M670.4 283.7V293.2M665.4 283.7h10M665.4 293.2h10M674.9 289.4V304.3M669.9 289.4h10M669.9 304.3h10M679.5 230.6V251.5M674.5 230.6h10M674.5 251.5h10M684.0 193.0V219.0M679.0 193.0h10M679.0 219.0h10M688.6 294.2V309.7M683.6 294.2h10M683.6 309.7h10M693.1 242.1V278.6M688.1 242.1h10M688.1 278.6h10M697.7 275.4V318.0M692.7 275.4h10M692.7 318.0h10M702.2 131.9V172.5M697.2 131.9h10M697.2 172.5h10M711.3 274.3V280.7M706.3 274.3h10M706.3 280.7h10M715.9 261.8V279.3M710.9 261.8h10M710.9 279.3h10M725.0 327.9V345.1M720.0 327.9h10M720.0 345.1h10M738.7 284.5V307.3M733.7 284.5h10M733.7 307.3h10M743.2 239.6V291.3M738.2 239.6h10M738.2 291.3h10M747.8 251.0V287.2M742.8 251.0h10M742.8 287.2h10M756.9 289.6V318.1M751.9 289.6h10M751.9 318.1h10M761.4 247.7V276.6M756.4 247.7h10M756.4 276.6h10M766.0 284.5V299.4M761.0 284.5h10M761.0 299.4h10M770.5 268.8V294.8M765.5 268.8h10M765.5 294.8h10M775.1 335.7V358.6M770.1 335.7h10M770.1 358.6h10M784.2 250.9V317.5M779.2 250.9h10M779.2 317.5h10M788.7 262.4V287.8M783.7 262.4h10M783.7 287.8h10M793.3 273.1V282.6M788.3 273.1h10M788.3 282.6h10M797.8 257.7V290.4M792.8 257.7h10M792.8 290.4h10M802.4 224.7V259.0M797.4 224.7h10M797.4 259.0h10M807.0 236.1V278.3M802.0 236.1h10M802.0 278.3h10M811.5 245.9V258.6M806.5 245.9h10M806.5 258.6h10M816.1 234.8V271.6M811.1 234.8h10M811.1 271.6h10M820.6 293.2V314.5M815.6 293.2h10M815.6 314.5h10M825.2 259.7V272.1M820.2 259.7h10M820.2 272.1h10M829.7 264.8V276.2M824.7 264.8h10M824.7 276.2h10M834.3 204.1V233.6M829.3 204.1h10M829.3 233.6h10M838.8 217.9V230.2M833.8 217.9h10M833.8 230.2h10M843.4 216.4V244.0M838.4 216.4h10M838.4 244.0h10M847.9 222.8V250.4M842.9 222.8h10M842.9 250.4h10M852.5 205.0V240.6M847.5 205.0h10M847.5 240.6h10M857.0 223.1V243.7M852.0 223.1h10M852.0 243.7h10M866.1 269.4V301.1M861.1 269.4h10M861.1 301.1h10M870.7 267.7V286.7M865.7 267.7h10M865.7 286.7h10M875.2 353.8V370.9M870.2 353.8h10M870.2 370.9h10M879.8 279.7V309.9M874.8 279.7h10M874.8 309.9h10M884.4 282.7V292.3M879.4 282.7h10M879.4 292.3h10M888.9 255.3V261.7M883.9 255.3h10M883.9 261.7h10M893.5 253.9V271.3M888.5 253.9h10M888.5 271.3h10M902.6 223.3V264.5M897.6 223.3h10M897.6 264.5h10M907.1 181.2V206.9M902.1 181.2h10M902.1 206.9h10M911.7 233.4V253.1M906.7 233.4h10M906.7 253.1h10M920.8 226.0V245.9M915.8 226.0h10M915.8 245.9h10M925.3 229.6V239.1M920.3 229.6h10M920.3 239.1h10M929.9 199.2V246.1M924.9 199.2h10M924.9 246.1h10M934.4 224.5V292.1M929.4 224.5h10M929.4 292.1h10M939.0 229.8V247.5M934.0 229.8h10M934.0 247.5h10M943.5 309.7V339.8M938.5 309.7h10M938.5 339.8h10M948.1 309.4V329.1M943.1 309.4h10M943.1 329.1h10M952.6 294.2V305.6M947.6 294.2h10M947.6 305.6h10M957.2 250.4V279.9M952.2 250.4h10M952.2 279.9h10M961.8 266.6V284.0M956.8 266.6h10M956.8 284.0h10M966.3 316.4V334.4M961.3 316.4h10M961.3 334.4h10M970.9 303.7V318.6M965.9 303.7h10M965.9 318.6h10M975.4 296.1V336.4M970.4 296.1h10M970.4 336.4h10M980.0 276.9V310.2M975.0 276.9h10M975.0 310.2h10M984.5 273.2V291.3M979.5 273.2h10M979.5 291.3h10M993.6 281.6V295.0M988.6 281.6h10M988.6 295.0h10M998.2 237.4V281.5M993.2 237.4h10M993.2 281.5h10M1002.7 268.5V295.7M997.7 268.5h10M997.7 295.7h10M1011.8 321.9V347.9M1006.8 321.9h10M1006.8 347.9h10M1020.9 268.9V304.2M1015.9 268.9h10M1015.9 304.2h10M1025.5 240.2V267.2M1020.5 240.2h10M1020.5 267.2h10M1030.0 271.0V290.4M1025.0 271.0h10M1025.0 290.4h10M1034.6 277.4V286.9M1029.6 277.4h10M1029.6 286.9h10M1039.2 398.8V410.3M1034.2 398.8h10M1034.2 410.3h10M1043.7 264.3V291.3M1038.7 264.3h10M1038.7 291.3h10M1048.3 237.5V274.7M1043.3 237.5h10M1043.3 274.7h10M1052.8 278.9V291.6M1047.8 278.9h10M1047.8 291.6h10M1057.4 197.9V235.3M1052.4 197.9h10M1052.4 235.3h10M1061.9 255.5V310.0M1056.9 255.5h10M1056.9 310.0h10M1066.5 275.9V289.6M1061.5 275.9h10M1061.5 289.6h10M1071.0 275.9V289.6M1066.0 275.9h10M1066.0 289.6h10M1075.6 272.6V292.9M1070.6 272.6h10M1070.6 292.9h10M1080.1 237.7V252.6M1075.1 237.7h10M1075.1 252.6h10M1084.7 280.5V290.0M1079.7 280.5h10M1079.7 290.0h10M1089.2 266.7V298.8M1084.2 266.7h10M1084.2 298.8h10M1102.9 252.0V272.0M1097.9 252.0h10M1097.9 272.0h10M1107.4 259.1V285.4M1102.4 259.1h10M1102.4 285.4h10M1116.6 274.7V288.3M1111.6 274.7h10M1111.6 288.3h10M1121.1 299.9V330.0M1116.1 299.9h10M1116.1 330.0h10M1125.7 287.5V300.5M1120.7 287.5h10M1120.7 300.5h10M1130.2 272.6V286.9M1125.2 272.6h10M1125.2 286.9h10M1134.8 266.7V276.2M1129.8 266.7h10M1129.8 276.2h10M1139.3 256.7V272.6M1134.3 256.7h10M1134.3 272.6h10M1143.9 239.9V284.0M1138.9 239.9h10M1138.9 284.0h10M1157.5 327.8V349.7M1152.5 327.8h10M1152.5 349.7h10M1162.1 342.5V369.2M1157.1 342.5h10M1157.1 369.2h10M1166.6 315.1V337.9M1161.6 315.1h10M1161.6 337.9h10M1171.2 316.5V336.5M1166.2 316.5h10M1166.2 336.5h10M1175.7 298.8V326.7M1170.7 298.8h10M1170.7 326.7h10M1180.3 289.7V305.6M1175.3 289.7h10M1175.3 305.6h10M1189.4 375.5V387.3M1184.4 375.5h10M1184.4 387.3h10M1194.0 299.4V310.8M1189.0 299.4h10M1189.0 310.8h10M1198.5 295.4V311.3M1193.5 295.4h10M1193.5 311.3h10M1203.1 317.8V329.2M1198.1 317.8h10M1198.1 329.2h10M1207.6 277.0V286.6M1202.6 277.0h10M1202.6 286.6h10M1212.2 275.9V287.7M1207.2 275.9h10M1207.2 287.7h10M1216.7 298.3V314.5M1211.7 298.3h10M1211.7 314.5h10M1221.3 269.3V289.9M1216.3 269.3h10M1216.3 289.9h10M1225.8 272.4V282.0M1220.8 272.4h10M1220.8 282.0h10M1230.4 278.9V291.3M1225.4 278.9h10M1225.4 291.3h10M1234.9 369.7V392.2M1229.9 369.7h10M1229.9 392.2h10M1244.0 283.1V323.3M1239.0 283.1h10M1239.0 323.3h10M1253.1 429.4V442.8M1248.1 429.4h10M1248.1 442.8h10M1257.7 297.5V321.3M1252.7 297.5h10M1252.7 321.3h10M1262.3 248.3V262.0M1257.3 248.3h10M1257.3 262.0h10M1271.4 274.2V289.7M1266.4 274.2h10M1266.4 289.7h10M1275.9 306.2V315.7M1270.9 306.2h10M1270.9 315.7h10M1280.5 310.3V328.4M1275.5 310.3h10M1275.5 328.4h10M1285.0 288.3V319.7M1280.0 288.3h10M1280.0 319.7h10M1289.6 337.3V365.5M1284.6 337.3h10M1284.6 365.5h10M1294.1 317.8V343.5M1289.1 317.8h10M1289.1 343.5h10" stroke="#000" stroke-width="1.65" fill="none"/>
<circle cx="501.9" cy="291.1" r="5.25" fill="#0000cc"/>
<circle cx="506.5" cy="317.6" r="5.25" fill="#000"/>
<circle cx="511.0" cy="317.6" r="5.25" fill="#000"/>
<circle cx="515.6" cy="246.6" r="5.25" fill="#000"/>
<circle cx="520.1" cy="230.2" r="5.25" fill="#000"/>
<circle cx="524.7" cy="390.3" r="5.25" fill="#fe0000"/>
<circle cx="529.2" cy="231.5" r="5.25" fill="#000"/>
<circle cx="533.8" cy="236.6" r="5.25" fill="#000"/>
<circle cx="538.3" cy="241.5" r="5.25" fill="#000"/>
<circle cx="542.9" cy="360.9" r="5.25" fill="#000"/>
<circle cx="547.4" cy="373.0" r="5.25" fill="#000"/>
<circle cx="552.0" cy="334.0" r="5.25" fill="#000"/>
<circle cx="556.5" cy="173.5" r="5.25" fill="#000"/>
<circle cx="561.1" cy="205.2" r="5.25" fill="#000"/>
<circle cx="565.6" cy="232.0" r="5.25" fill="#000"/>
<circle cx="570.2" cy="191.9" r="5.25" fill="#000"/>
<circle cx="574.7" cy="190.9" r="5.25" fill="#000"/>
<circle cx="579.3" cy="238.3" r="5.25" fill="#000"/>
<circle cx="583.9" cy="254.8" r="5.25" fill="#000"/>
<circle cx="588.4" cy="184.3" r="5.25" fill="#000"/>
<circle cx="593.0" cy="421.2" r="5.25" fill="#fe0000"/>
<circle cx="597.5" cy="325.7" r="5.25" fill="#000"/>
<circle cx="602.1" cy="191.9" r="5.25" fill="#000"/>
<circle cx="606.6" cy="226.8" r="5.25" fill="#000"/>
<circle cx="611.2" cy="206.6" r="5.25" fill="#000"/>
<circle cx="615.7" cy="227.2" r="5.25" fill="#000"/>
<circle cx="620.3" cy="257.2" r="5.25" fill="#000"/>
<circle cx="624.8" cy="318.4" r="5.25" fill="#000"/>
<circle cx="629.4" cy="365.4" r="5.25" fill="#000"/>
<circle cx="633.9" cy="149.2" r="5.25" fill="#000"/>
<circle cx="638.5" cy="102.3" r="5.25" fill="#000"/>
<circle cx="643.0" cy="186.8" r="5.25" fill="#000"/>
<circle cx="647.6" cy="297.0" r="5.25" fill="#000"/>
<circle cx="652.1" cy="260.4" r="5.25" fill="#000"/>
<circle cx="656.7" cy="280.0" r="5.25" fill="#000"/>
<circle cx="661.3" cy="307.5" r="5.25" fill="#000"/>
<circle cx="665.8" cy="288.5" r="5.25" fill="#000"/>
<circle cx="670.4" cy="288.5" r="5.25" fill="#000"/>
<circle cx="674.9" cy="296.9" r="5.25" fill="#000"/>
<circle cx="679.5" cy="241.0" r="5.25" fill="#000"/>
<circle cx="684.0" cy="206.0" r="5.25" fill="#000"/>
<circle cx="688.6" cy="301.9" r="5.25" fill="#000"/>
<circle cx="693.1" cy="260.4" r="5.25" fill="#000"/>
<circle cx="697.7" cy="296.7" r="5.25" fill="#000"/>
<circle cx="702.2" cy="152.2" r="5.25" fill="#000"/>
<circle cx="706.8" cy="383.8" r="5.25" fill="#000"/>
<circle cx="711.3" cy="277.5" r="5.25" fill="#000"/>
<circle cx="715.9" cy="270.5" r="5.25" fill="#000"/>
<circle cx="720.4" cy="266.7" r="5.25" fill="#000"/>
<circle cx="725.0" cy="336.5" r="5.25" fill="#000"/>
<circle cx="729.5" cy="315.1" r="5.25" fill="#000"/>
<circle cx="734.1" cy="404.1" r="5.25" fill="#fe0000"/>
<circle cx="738.7" cy="295.9" r="5.25" fill="#000"/>
<circle cx="743.2" cy="265.5" r="5.25" fill="#000"/>
<circle cx="747.8" cy="269.1" r="5.25" fill="#000"/>
<circle cx="752.3" cy="404.5" r="5.25" fill="#fe0000"/>
<circle cx="756.9" cy="303.8" r="5.25" fill="#000"/>
<circle cx="761.4" cy="262.1" r="5.25" fill="#000"/>
<circle cx="766.0" cy="291.9" r="5.25" fill="#000"/>
<circle cx="770.5" cy="281.8" r="5.25" fill="#000"/>
<circle cx="775.1" cy="347.1" r="5.25" fill="#000"/>
<circle cx="779.6" cy="390.6" r="5.25" fill="#fe0000"/>
<circle cx="784.2" cy="284.2" r="5.25" fill="#000"/>
<circle cx="788.7" cy="275.1" r="5.25" fill="#000"/>
<circle cx="793.3" cy="277.8" r="5.25" fill="#000"/>
<circle cx="797.8" cy="274.0" r="5.25" fill="#000"/>
<circle cx="802.4" cy="241.8" r="5.25" fill="#000"/>
<circle cx="807.0" cy="257.2" r="5.25" fill="#000"/>
<circle cx="811.5" cy="252.3" r="5.25" fill="#000"/>
<circle cx="816.1" cy="253.2" r="5.25" fill="#000"/>
<circle cx="820.6" cy="303.8" r="5.25" fill="#000"/>
<circle cx="825.2" cy="265.9" r="5.25" fill="#000"/>
<circle cx="829.7" cy="270.5" r="5.25" fill="#000"/>
<circle cx="834.3" cy="218.8" r="5.25" fill="#000"/>
<circle cx="838.8" cy="224.1" r="5.25" fill="#000"/>
<circle cx="843.4" cy="230.2" r="5.25" fill="#000"/>
<circle cx="847.9" cy="236.6" r="5.25" fill="#000"/>
<circle cx="852.5" cy="222.8" r="5.25" fill="#000"/>
<circle cx="857.0" cy="233.4" r="5.25" fill="#000"/>
<circle cx="861.6" cy="410.9" r="5.25" fill="#fe0000"/>
<circle cx="866.1" cy="285.3" r="5.25" fill="#000"/>
<circle cx="870.7" cy="277.2" r="5.25" fill="#000"/>
<circle cx="875.2" cy="362.4" r="5.25" fill="#000"/>
<circle cx="879.8" cy="294.8" r="5.25" fill="#000"/>
<circle cx="884.4" cy="287.5" r="5.25" fill="#000"/>
<circle cx="888.9" cy="258.5" r="5.25" fill="#000"/>
<circle cx="893.5" cy="262.6" r="5.25" fill="#000"/>
<circle cx="898.0" cy="362.5" r="5.25" fill="#000"/>
<circle cx="902.6" cy="243.9" r="5.25" fill="#000"/>
<circle cx="907.1" cy="194.1" r="5.25" fill="#000"/>
<circle cx="911.7" cy="243.3" r="5.25" fill="#000"/>
<circle cx="916.2" cy="217.2" r="5.25" fill="#000"/>
<circle cx="920.8" cy="236.0" r="5.25" fill="#000"/>
<circle cx="925.3" cy="234.4" r="5.25" fill="#000"/>
<circle cx="929.9" cy="222.6" r="5.25" fill="#000"/>
<circle cx="934.4" cy="258.3" r="5.25" fill="#000"/>
<circle cx="939.0" cy="238.7" r="5.25" fill="#000"/>
<circle cx="943.5" cy="324.8" r="5.25" fill="#000"/>
<circle cx="948.1" cy="319.2" r="5.25" fill="#000"/>
<circle cx="952.6" cy="299.9" r="5.25" fill="#000"/>
<circle cx="957.2" cy="265.1" r="5.25" fill="#000"/>
<circle cx="961.8" cy="275.3" r="5.25" fill="#000"/>
<circle cx="966.3" cy="325.4" r="5.25" fill="#000"/>
<circle cx="970.9" cy="311.1" r="5.25" fill="#000"/>
<circle cx="975.4" cy="316.2" r="5.25" fill="#000"/>
<circle cx="980.0" cy="293.5" r="5.25" fill="#000"/>
<circle cx="984.5" cy="282.3" r="5.25" fill="#000"/>
<circle cx="989.1" cy="305.9" r="5.25" fill="#000"/>
<circle cx="993.6" cy="288.3" r="5.25" fill="#000"/>
<circle cx="998.2" cy="259.4" r="5.25" fill="#000"/>
<circle cx="1002.7" cy="282.1" r="5.25" fill="#000"/>
<circle cx="1007.3" cy="313.4" r="5.25" fill="#000"/>
<circle cx="1011.8" cy="334.9" r="5.25" fill="#000"/>
<circle cx="1016.4" cy="289.1" r="5.25" fill="#000"/>
<circle cx="1020.9" cy="286.6" r="5.25" fill="#000"/>
<circle cx="1025.5" cy="253.7" r="5.25" fill="#000"/>
<circle cx="1030.0" cy="280.7" r="5.25" fill="#000"/>
<circle cx="1034.6" cy="282.1" r="5.25" fill="#000"/>
<circle cx="1039.2" cy="404.5" r="5.25" fill="#fe0000"/>
<circle cx="1043.7" cy="277.8" r="5.25" fill="#000"/>
<circle cx="1048.3" cy="256.1" r="5.25" fill="#000"/>
<circle cx="1052.8" cy="285.3" r="5.25" fill="#000"/>
<circle cx="1057.4" cy="216.6" r="5.25" fill="#000"/>
<circle cx="1061.9" cy="282.7" r="5.25" fill="#000"/>
<circle cx="1066.5" cy="282.7" r="5.25" fill="#000"/>
<circle cx="1071.0" cy="282.7" r="5.25" fill="#000"/>
<circle cx="1075.6" cy="282.7" r="5.25" fill="#000"/>
<circle cx="1080.1" cy="245.2" r="5.25" fill="#000"/>
<circle cx="1084.7" cy="285.3" r="5.25" fill="#000"/>
<circle cx="1089.2" cy="282.7" r="5.25" fill="#000"/>
<circle cx="1093.8" cy="246.3" r="5.25" fill="#000"/>
<circle cx="1098.3" cy="283.5" r="5.25" fill="#000"/>
<circle cx="1102.9" cy="262.0" r="5.25" fill="#000"/>
<circle cx="1107.4" cy="272.3" r="5.25" fill="#000"/>
<circle cx="1112.0" cy="287.8" r="5.25" fill="#000"/>
<circle cx="1116.6" cy="281.5" r="5.25" fill="#000"/>
<circle cx="1121.1" cy="314.9" r="5.25" fill="#000"/>
<circle cx="1125.7" cy="294.0" r="5.25" fill="#000"/>
<circle cx="1130.2" cy="279.7" r="5.25" fill="#000"/>
<circle cx="1134.8" cy="271.5" r="5.25" fill="#000"/>
<circle cx="1139.3" cy="264.7" r="5.25" fill="#000"/>
<circle cx="1143.9" cy="262.0" r="5.25" fill="#000"/>
<circle cx="1148.4" cy="304.5" r="5.25" fill="#000"/>
<circle cx="1153.0" cy="286.1" r="5.25" fill="#000"/>
<circle cx="1157.5" cy="338.7" r="5.25" fill="#000"/>
<circle cx="1162.1" cy="355.9" r="5.25" fill="#000"/>
<circle cx="1166.6" cy="326.5" r="5.25" fill="#000"/>
<circle cx="1171.2" cy="326.5" r="5.25" fill="#000"/>
<circle cx="1175.7" cy="312.7" r="5.25" fill="#000"/>
<circle cx="1180.3" cy="297.7" r="5.25" fill="#000"/>
<circle cx="1184.8" cy="241.8" r="5.25" fill="#000"/>
<circle cx="1189.4" cy="381.4" r="5.25" fill="#000"/>
<circle cx="1194.0" cy="305.1" r="5.25" fill="#000"/>
<circle cx="1198.5" cy="303.4" r="5.25" fill="#000"/>
<circle cx="1203.1" cy="323.5" r="5.25" fill="#000"/>
<circle cx="1207.6" cy="281.8" r="5.25" fill="#000"/>
<circle cx="1212.2" cy="281.8" r="5.25" fill="#000"/>
<circle cx="1216.7" cy="306.4" r="5.25" fill="#000"/>
<circle cx="1221.3" cy="279.6" r="5.25" fill="#000"/>
<circle cx="1225.8" cy="277.2" r="5.25" fill="#000"/>
<circle cx="1230.4" cy="285.1" r="5.25" fill="#000"/>
<circle cx="1234.9" cy="380.9" r="5.25" fill="#000"/>
<circle cx="1239.5" cy="322.7" r="5.25" fill="#000"/>
<circle cx="1244.0" cy="303.2" r="5.25" fill="#000"/>
<circle cx="1248.6" cy="383.5" r="5.25" fill="#000"/>
<circle cx="1253.1" cy="436.1" r="5.25" fill="#fe0000"/>
<circle cx="1257.7" cy="309.4" r="5.25" fill="#000"/>
<circle cx="1262.3" cy="255.1" r="5.25" fill="#000"/>
<circle cx="1266.8" cy="421.5" r="5.25" fill="#fe0000"/>
<circle cx="1271.4" cy="282.0" r="5.25" fill="#000"/>
<circle cx="1275.9" cy="311.0" r="5.25" fill="#000"/>
<circle cx="1280.5" cy="319.4" r="5.25" fill="#000"/>
<circle cx="1285.0" cy="304.0" r="5.25" fill="#000"/>
<circle cx="1289.6" cy="351.4" r="5.25" fill="#000"/>
<circle cx="1294.1" cy="330.6" r="5.25" fill="#000"/>
<rect x="497.9" y="67.1" width="3.4" height="384.3" fill="#000"/>
<rect x="492.4" y="448.2" width="805.5" height="3.2" fill="#000"/>
<rect x="492.4" y="416.7" width="6" height="3.2" fill="#000"/>
<rect x="492.4" y="384.9" width="6" height="3.2" fill="#000"/>
<rect x="492.4" y="353.2" width="6" height="3.2" fill="#000"/>
<rect x="492.4" y="321.4" width="6" height="3.2" fill="#000"/>
<rect x="492.4" y="289.6" width="6" height="3.2" fill="#000"/>
<rect x="492.4" y="257.8" width="6" height="3.2" fill="#000"/>
<rect x="492.4" y="226.0" width="6" height="3.2" fill="#000"/>
<rect x="492.4" y="194.3" width="6" height="3.2" fill="#000"/>
<rect x="492.4" y="162.5" width="6" height="3.2" fill="#000"/>
<rect x="492.4" y="130.7" width="6" height="3.2" fill="#000"/>
<rect x="492.4" y="98.9" width="6" height="3.2" fill="#000"/>
<rect x="492.4" y="67.1" width="6" height="3.2" fill="#000"/>
<path d="M501.90 451V457.4M506.45 451V457.4M511.01 451V457.4M515.56 451V457.4M520.11 451V457.4M524.66 451V457.4M529.22 451V457.4M533.77 451V457.4M538.32 451V457.4M542.88 451V457.4M547.43 451V457.4M551.98 451V457.4M556.54 451V457.4M561.09 451V457.4M565.64 451V457.4M570.19 451V457.4M574.75 451V457.4M579.30 451V457.4M583.85 451V457.4M588.41 451V457.4M592.96 451V457.4M597.51 451V457.4M602.07 451V457.4M606.62 451V457.4M611.17 451V457.4M615.73 451V457.4M620.28 451V457.4M624.83 451V457.4M629.38 451V457.4M633.94 451V457.4M638.49 451V457.4M643.04 451V457.4M647.60 451V457.4M652.15 451V457.4M656.70 451V457.4M661.25 451V457.4M665.81 451V457.4M670.36 451V457.4M674.91 451V457.4M679.47 451V457.4M684.02 451V457.4M688.57 451V457.4M693.13 451V457.4M697.68 451V457.4M702.23 451V457.4M706.78 451V457.4M711.34 451V457.4M715.89 451V457.4M720.44 451V457.4M725.00 451V457.4M729.55 451V457.4M734.10 451V457.4M738.66 451V457.4M743.21 451V457.4M747.76 451V457.4M752.31 451V457.4M756.87 451V457.4M761.42 451V457.4M765.97 451V457.4M770.53 451V457.4M775.08 451V457.4M779.63 451V457.4M784.19 451V457.4M788.74 451V457.4M793.29 451V457.4M797.85 451V457.4M802.40 451V457.4M806.95 451V457.4M811.50 451V457.4M816.06 451V457.4M820.61 451V457.4M825.16 451V457.4M829.72 451V457.4M834.27 451V457.4M838.82 451V457.4M843.38 451V457.4M847.93 451V457.4M852.48 451V457.4M857.03 451V457.4M861.59 451V457.4M866.14 451V457.4M870.69 451V457.4M875.25 451V457.4M879.80 451V457.4M884.35 451V457.4M888.90 451V457.4M893.46 451V457.4M898.01 451V457.4M902.56 451V457.4M907.12 451V457.4M911.67 451V457.4M916.22 451V457.4M920.78 451V457.4M925.33 451V457.4M929.88 451V457.4M934.43 451V457.4M938.99 451V457.4M943.54 451V457.4M948.09 451V457.4M952.65 451V457.4M957.20 451V457.4M961.75 451V457.4M966.31 451V457.4M970.86 451V457.4M975.41 451V457.4M979.96 451V457.4M984.52 451V457.4M989.07 451V457.4M993.62 451V457.4M998.18 451V457.4M1002.73 451V457.4M1007.28 451V457.4M1011.84 451V457.4M1016.39 451V457.4M1020.94 451V457.4M1025.49 451V457.4M1030.05 451V457.4M1034.60 451V457.4M1039.15 451V457.4M1043.71 451V457.4M1048.26 451V457.4M1052.81 451V457.4M1057.37 451V457.4M1061.92 451V457.4M1066.47 451V457.4M1071.03 451V457.4M1075.58 451V457.4M1080.13 451V457.4M1084.68 451V457.4M1089.24 451V457.4M1093.79 451V457.4M1098.34 451V457.4M1102.90 451V457.4M1107.45 451V457.4M1112.00 451V457.4M1116.55 451V457.4M1121.11 451V457.4M1125.66 451V457.4M1130.21 451V457.4M1134.77 451V457.4M1139.32 451V457.4M1143.87 451V457.4M1148.43 451V457.4M1152.98 451V457.4M1157.53 451V457.4M1162.09 451V457.4M1166.64 451V457.4M1171.19 451V457.4M1175.74 451V457.4M1180.30 451V457.4M1184.85 451V457.4M1189.40 451V457.4M1193.96 451V457.4M1198.51 451V457.4M1203.06 451V457.4M1207.62 451V457.4M1212.17 451V457.4M1216.72 451V457.4M1221.27 451V457.4M1225.83 451V457.4M1230.38 451V457.4M1234.93 451V457.4M1239.49 451V457.4M1244.04 451V457.4M1248.59 451V457.4M1253.14 451V457.4M1257.70 451V457.4M1262.25 451V457.4M1266.80 451V457.4M1271.36 451V457.4M1275.91 451V457.4M1280.46 451V457.4M1285.02 451V457.4M1289.57 451V457.4M1294.12 451V457.4" stroke="#000" stroke-width="2.9" fill="none"/>
<text x="484.1" y="456.7" font-size="19.3" text-anchor="end" fill="#1a1a1a" textLength="10.7" lengthAdjust="spacingAndGlyphs">0</text>
<text x="484.1" y="424.9" font-size="19.3" text-anchor="end" fill="#1a1a1a" textLength="21.9" lengthAdjust="spacingAndGlyphs">20</text>
<text x="484.1" y="393.1" font-size="19.3" text-anchor="end" fill="#1a1a1a" textLength="21.9" lengthAdjust="spacingAndGlyphs">40</text>
<text x="484.1" y="361.4" font-size="19.3" text-anchor="end" fill="#1a1a1a" textLength="21.9" lengthAdjust="spacingAndGlyphs">60</text>
<text x="484.1" y="329.6" font-size="19.3" text-anchor="end" fill="#1a1a1a" textLength="21.9" lengthAdjust="spacingAndGlyphs">80</text>
<text x="484.1" y="297.8" font-size="19.3" text-anchor="end" fill="#1a1a1a" textLength="33.0" lengthAdjust="spacingAndGlyphs">100</text>
<text x="484.1" y="266.0" font-size="19.3" text-anchor="end" fill="#1a1a1a" textLength="33.0" lengthAdjust="spacingAndGlyphs">120</text>
<text x="484.1" y="234.2" font-size="19.3" text-anchor="end" fill="#1a1a1a" textLength="33.0" lengthAdjust="spacingAndGlyphs">140</text>
<text x="484.1" y="202.5" font-size="19.3" text-anchor="end" fill="#1a1a1a" textLength="33.0" lengthAdjust="spacingAndGlyphs">160</text>
<text x="484.1" y="170.7" font-size="19.3" text-anchor="end" fill="#1a1a1a" textLength="33.0" lengthAdjust="spacingAndGlyphs">180</text>
<text x="484.1" y="138.9" font-size="19.3" text-anchor="end" fill="#1a1a1a" textLength="33.0" lengthAdjust="spacingAndGlyphs">200</text>
<text x="484.1" y="107.1" font-size="19.3" text-anchor="end" fill="#1a1a1a" textLength="33.0" lengthAdjust="spacingAndGlyphs">220</text>
<text x="484.1" y="75.3" font-size="19.3" text-anchor="end" fill="#1a1a1a" textLength="33.0" lengthAdjust="spacingAndGlyphs">240</text>
<text transform="translate(439.8,381.1) rotate(-90)" font-size="22" fill="#1a1a1a" textLength="251" lengthAdjust="spacingAndGlyphs">Percentage of Control (%)</text>
<text x="838.1" y="489.5" font-size="22" fill="#1a1a1a" textLength="119.2" lengthAdjust="spacingAndGlyphs">Compounds</text>
<text x="531.5" y="404.8" font-size="13.65" font-weight="bold" fill="#1a1a1a">T0516-4834</text>
<text x="601.3" y="435.0" font-size="13.65" font-weight="bold" fill="#1a1a1a">T5335152</text>
<text x="694.2" y="424.4" font-size="13.65" font-weight="bold" fill="#1a1a1a">T5583064</text>
<text x="760.0" y="415.1" font-size="13.65" font-weight="bold" fill="#1a1a1a">T5628834</text>
<text x="790.9" y="398.8" font-size="13.65" font-weight="bold" fill="#1a1a1a">T5666438</text>
<text x="870.3" y="418.6" font-size="13.65" font-weight="bold" fill="#1a1a1a">T5788969</text>
<text x="1052.4" y="412.8" font-size="13.65" font-weight="bold" fill="#1a1a1a">T6174889</text>
<text x="1274.2" y="427.2" font-size="13.65" font-weight="bold" fill="#1a1a1a">T6780107</text>
<text x="1262.9" y="444.0" font-size="13.65" font-weight="bold" fill="#1a1a1a">T6697435</text>
</g>
</svg>
</body></html>
